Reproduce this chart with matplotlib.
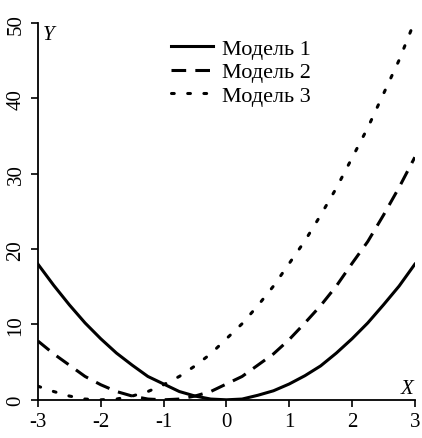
import matplotlib.pyplot as plt

# значения (шаг 0.25)
x_vals = [-3.0, -2.75, -2.5, -2.25, -2.0, -1.75, -1.5, -1.25, -1.0, -0.75, -0.5, -0.25,
          0.0, 0.25, 0.5, 0.75, 1.0, 1.25, 1.5, 1.75, 2.0, 2.25, 2.5, 2.75, 3.0]
model_1 = [18.0, 15.2, 12.6, 10.2, 8.1, 6.2, 4.6, 3.1, 2.1, 1.1, 0.5, 0.1,
           0.0, 0.1, 0.6, 1.2, 2.1, 3.2, 4.5, 6.2, 8.1, 10.2, 12.6, 15.1, 18.0]
model_2 = [7.8, 6.1, 4.6, 3.1, 2.0, 1.1, 0.5, 0.1, 0.0, 0.1, 0.5, 1.1,
           2.1, 3.1, 4.6, 6.1, 8.0, 10.2, 12.5, 15.1, 18.1, 21.0, 24.5, 28.2, 32.2]
model_3 = [1.8, 1.1, 0.5, 0.1, 0.0, 0.1, 0.5, 1.1, 2.0, 3.1, 4.5, 6.1,
           8.1, 10.1, 12.5, 15.1, 18.1, 21.1, 24.5, 28.1, 32.1, 36.1, 40.6, 45.1, 50.3]
labels = ["Модель 1", "Модель 2", "Модель 3"]

plt.rcParams['font.family'] = ['Liberation Serif', 'DejaVu Serif']
plt.rcParams['axes.unicode_minus'] = False

fig = plt.figure(figsize=(4.22, 4.39), dpi=100)
ax = fig.add_axes([0.090, 0.087, 0.893, 0.858])

ax.plot(x_vals, model_1, color='black', lw=2.2, linestyle='-', label=labels[0])
ax.plot(x_vals, model_2, color='black', lw=2.2, linestyle=(0, (4.8, 3.0)), label=labels[1])
ax.plot(x_vals, model_3, color='black', lw=2.2, linestyle=(0, (0.9, 4.4)),
        dash_capstyle='round', label=labels[2])

ax.set_xlim(-3, 3)
ax.set_ylim(0, 50)
ax.set_xticks([-3, -2, -1, 0, 1, 2, 3])
ax.set_yticks([0, 10, 20, 30, 40, 50])
ax.spines['top'].set_visible(False)
ax.spines['right'].set_visible(False)
ax.spines['left'].set_linewidth(1.3)
ax.spines['bottom'].set_linewidth(1.3)
ax.tick_params(direction='out', length=5, width=1.2, labelsize=15, pad=4)
for lbl in ax.get_yticklabels():
    lbl.set_rotation(90)
    lbl.set_va('center')

ax.text(0.012, 0.995, 'Y', transform=ax.transAxes, fontsize=15, style='italic', va='top', ha='left')
ax.text(0.995, 0.005, 'X', transform=ax.transAxes, fontsize=15, style='italic', va='bottom', ha='right')

ax.legend(loc='upper left', bbox_to_anchor=(0.312, 1.0), frameon=False, fontsize=16,
          handlelength=1.9, labelspacing=0.12, handletextpad=0.4, borderpad=0.2)

fig.savefig('out.png', dpi=100)
